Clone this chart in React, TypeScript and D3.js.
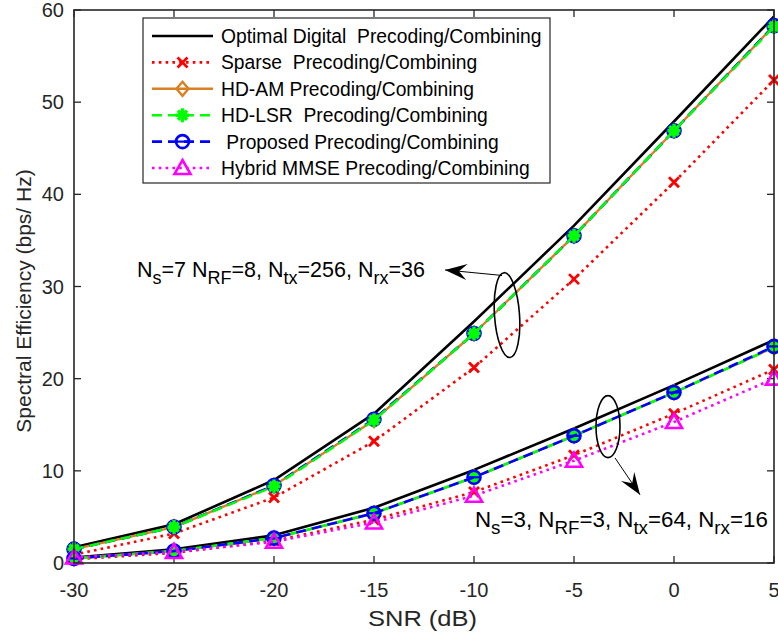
import React, { useEffect, useRef } from 'react';
import * as d3 from 'd3';

// SNR points (dB)
const snr = [-30, -25, -20, -15, -10, -5, 0, 5];

// Ns=7, NRF=8, Ntx=256, Nrx=36
const optimal7 = [1.7, 4.2, 9.0, 16.2, 26.2, 36.6, 47.9, 59.3];
const sparse7 = [0.9, 3.2, 7.1, 13.2, 21.2, 30.8, 41.3, 52.4];
const hdam7 = [1.5, 3.9, 8.4, 15.5, 24.9, 35.5, 46.9, 58.3];
const hdlsr7 = [1.5, 3.9, 8.3, 15.5, 24.9, 35.5, 46.9, 58.2];
const proposed7 = [1.5, 3.9, 8.4, 15.6, 24.9, 35.5, 46.9, 58.3];

// Ns=3, NRF=3, Ntx=64, Nrx=16
const optimal3 = [0.6, 1.5, 3.0, 6.0, 10.1, 14.6, 19.3, 24.2];
const sparse3 = [0.4, 1.1, 2.4, 4.7, 7.7, 11.7, 16.2, 21.0];
const hdam3 = [0.5, 1.3, 2.7, 5.4, 9.3, 13.8, 18.5, 23.4];
const hdlsr3 = [0.5, 1.3, 2.7, 5.4, 9.3, 13.8, 18.5, 23.4];
const proposed3 = [0.5, 1.3, 2.7, 5.4, 9.3, 13.8, 18.5, 23.5];
const hybrid3 = [0.6, 1.2, 2.3, 4.4, 7.3, 11.1, 15.3, 20.0];

const xTicks = [-30, -25, -20, -15, -10, -5, 0, 5];
const yTicks = [0, 10, 20, 30, 40, 50, 60];

const legendLabels = [
  'Optimal Digital  Precoding/Combining',
  'Sparse  Precoding/Combining',
  'HD-AM Precoding/Combining',
  'HD-LSR  Precoding/Combining',
  ' Proposed Precoding/Combining',
  'Hybrid MMSE Precoding/Combining',
];

const note7: [string, boolean][] = [['N', false], ['s', true], ['=7 N', false], ['RF', true], ['=8, N', false], ['tx', true], ['=256, N', false], ['rx', true], ['=36', false]];
const note3: [string, boolean][] = [['N', false], ['s', true], ['=3, N', false], ['RF', true], ['=3, N', false], ['tx', true], ['=64, N', false], ['rx', true], ['=16', false]];

const FONT = 'Arial, "Liberation Sans", Helvetica, sans-serif';

type Style = { key: string; color: string; width: number; dash: string | null; marker: string };

const styles: Style[] = [
  { key: 'optimal', color: '#000000', width: 2.6, dash: null, marker: 'none' },
  { key: 'sparse', color: '#ff0000', width: 2.6, dash: '2.6,4.2', marker: 'x' },
  { key: 'hdam', color: '#d98022', width: 2.4, dash: null, marker: 'diamond' },
  { key: 'hdlsr', color: '#00ff00', width: 2.6, dash: '10,6', marker: 'star' },
  { key: 'proposed', color: '#0000ff', width: 2.6, dash: '10,6', marker: 'circle' },
  { key: 'hybrid', color: '#ff00ff', width: 2.6, dash: '2.6,4.2', marker: 'triangle' },
];

function drawMarker(g: any, kind: string, cx: number, cy: number, color: string) {
  const m = g.append('g').attr('transform', `translate(${cx},${cy})`)
    .attr('stroke', color).attr('fill', 'none').attr('stroke-width', 2.4);
  if (kind === 'x') {
    m.append('path').attr('d', 'M-5,-5L5,5M-5,5L5,-5').attr('stroke-width', 2.8);
  } else if (kind === 'diamond') {
    m.append('path').attr('d', 'M0,-7L6,0L0,7L-6,0Z');
  } else if (kind === 'star') {
    m.append('path').attr('d', 'M0,-7L0,7M-6.5,0L6.5,0M-4.6,-4.6L4.6,4.6M-4.6,4.6L4.6,-4.6').attr('stroke-width', 3.4);
  } else if (kind === 'circle') {
    m.append('circle').attr('r', 6.5).attr('stroke-width', 2.6);
    m.append('path').attr('d', 'M-6,0L6,0').attr('stroke-width', 2.2);
  } else if (kind === 'triangle') {
    m.append('path').attr('d', 'M0,-8L8,6L-8,6Z').attr('stroke-width', 2.6);
  }
}

function drawArrow(svg: any, x1: number, y1: number, x2: number, y2: number) {
  svg.append('line').attr('x1', x1).attr('y1', y1).attr('x2', x2).attr('y2', y2)
    .attr('stroke', '#000').attr('stroke-width', 1);
  const ang = Math.atan2(y2 - y1, x2 - x1) * 180 / Math.PI;
  svg.append('path')
    .attr('d', 'M0,0L-22,-8L-14,0L-22,8Z')
    .attr('transform', `translate(${x2},${y2}) rotate(${ang})`)
    .attr('fill', '#000');
}

function addNote(svg: any, x: number, y: number, parts: [string, boolean][], size: number) {
  const t = svg.append('text').attr('x', x).attr('y', y)
    .attr('font-family', FONT).attr('font-size', size).attr('fill', '#000');
  let sub = false;
  parts.forEach(([s, isSub]) => {
    const dy = isSub === sub ? 0 : (isSub ? 7 : -7);
    t.append('tspan').attr('dy', dy).attr('font-size', isSub ? size - 3.5 : size)
      .attr('xml:space', 'preserve').text(s);
    sub = isSub;
  });
}

export default function App() {
  const ref = useRef<SVGSVGElement | null>(null);

  useEffect(() => {
    const width = 778;
    const height = 638;
    const left = 74, right = 774, top = 10, bottom = 563;

    const svg = d3.select(ref.current);
    svg.selectAll('*').remove();
    svg.attr('width', width).attr('height', height);

    svg.append('rect').attr('width', width).attr('height', height).attr('fill', '#fff');

    const x = d3.scaleLinear().domain([-30, 5]).range([left, right]);
    const y = d3.scaleLinear().domain([0, 60]).range([bottom, top]);

    const axisColor = '#262626';

    // ticks (inward, all four sides)
    xTicks.forEach(t => {
      svg.append('line').attr('x1', x(t)).attr('x2', x(t)).attr('y1', bottom).attr('y2', bottom - 7)
        .attr('stroke', axisColor).attr('stroke-width', 1.3);
      svg.append('line').attr('x1', x(t)).attr('x2', x(t)).attr('y1', top).attr('y2', top + 7)
        .attr('stroke', axisColor).attr('stroke-width', 1.3);
      svg.append('text').attr('x', x(t)).attr('y', bottom + 34)
        .attr('text-anchor', 'middle').attr('font-family', FONT).attr('font-size', 20)
        .attr('fill', axisColor).text(t);
    });
    yTicks.forEach(t => {
      svg.append('line').attr('x1', left).attr('x2', left + 7).attr('y1', y(t)).attr('y2', y(t))
        .attr('stroke', axisColor).attr('stroke-width', 1.3);
      svg.append('line').attr('x1', right).attr('x2', right - 7).attr('y1', y(t)).attr('y2', y(t))
        .attr('stroke', axisColor).attr('stroke-width', 1.3);
      svg.append('text').attr('x', left - 10).attr('y', y(t) + 7)
        .attr('text-anchor', 'end').attr('font-family', FONT).attr('font-size', 20)
        .attr('fill', axisColor).text(t);
    });

    const line = d3.line<number>().x((_, i) => x(snr[i])).y(d => y(d));
    const plot = svg.append('g');
    const styleOf = (k: string) => styles.find(s => s.key === k) as Style;

    const drawSeries = (k: string, vals: number[], offset = 0) => {
      const s = styleOf(k);
      plot.append('path').attr('d', line(vals) as string)
        .attr('fill', 'none').attr('stroke', s.color).attr('stroke-width', s.width)
        .attr('stroke-dasharray', s.dash).attr('stroke-dashoffset', offset)
        .attr('stroke-linejoin', 'round');
      vals.forEach((v, i) => drawMarker(plot, s.marker, x(snr[i]), y(v), s.color));
    };

    // upper group: green drawn over blue
    drawSeries('optimal', optimal7);
    drawSeries('sparse', sparse7);
    drawSeries('hdam', hdam7);
    drawSeries('proposed', proposed7);
    drawSeries('hdlsr', hdlsr7);

    // lower group: blue drawn over green
    drawSeries('optimal', optimal3);
    drawSeries('sparse', sparse3);
    drawSeries('hdam', hdam3);
    drawSeries('hdlsr', hdlsr3, 8);
    drawSeries('proposed', proposed3);
    drawSeries('hybrid', hybrid3);

    // axes box
    svg.append('rect').attr('x', left).attr('y', top).attr('width', right - left).attr('height', bottom - top)
      .attr('fill', 'none').attr('stroke', axisColor).attr('stroke-width', 1.6);

    // axis labels
    svg.append('text').attr('x', 368).attr('y', 626)
      .attr('font-family', FONT).attr('font-size', 22)
      .attr('textLength', 109).attr('lengthAdjust', 'spacingAndGlyphs')
      .attr('fill', axisColor).text('SNR (dB)');
    svg.append('text').attr('transform', `translate(31,${301}) rotate(-90)`)
      .attr('text-anchor', 'middle').attr('font-family', FONT).attr('font-size', 21)
      .attr('fill', axisColor).text('Spectral Efficiency (bps/ Hz)');

    // legend
    const lg = svg.append('g');
    lg.append('rect').attr('x', 143).attr('y', 18).attr('width', 407).attr('height', 165)
      .attr('fill', '#fff').attr('stroke', axisColor).attr('stroke-width', 1.2);
    styles.forEach((s, i) => {
      const ly = 36 + i * 26.4;
      lg.append('line').attr('x1', 152).attr('x2', 213).attr('y1', ly).attr('y2', ly)
        .attr('stroke', s.color).attr('stroke-width', s.width).attr('stroke-dasharray', s.dash);
      drawMarker(lg, s.marker, 182.5, ly, s.color);
      lg.append('text').attr('x', 221).attr('y', ly + 7).attr('font-family', FONT).attr('font-size', 19.3)
        .attr('xml:space', 'preserve').attr('fill', '#000').text(legendLabels[i]);
    });

    // annotations
    svg.append('ellipse').attr('cx', x(-8.35)).attr('cy', y(26.9)).attr('rx', 12.5).attr('ry', 42.5)
      .attr('transform', `rotate(-4,${x(-8.35)},${y(26.9)})`)
      .attr('fill', 'none').attr('stroke', '#000').attr('stroke-width', 1.6);
    drawArrow(svg, x(-8.6), y(31.2), x(-11.45), y(31.8));
    addNote(svg, 137, 277, note7, 21.5);

    svg.append('ellipse').attr('cx', x(-3.3)).attr('cy', y(14.8)).attr('rx', 12).attr('ry', 31)
      .attr('fill', 'none').attr('stroke', '#000').attr('stroke-width', 1.6);
    drawArrow(svg, x(-2.95), y(11.4), x(-1.7), y(7.4));
    addNote(svg, 475, 527, note3, 22.3);
  }, []);

  return (
    <div>
      <svg ref={ref} style={{ position: 'absolute', left: 0, top: 0 }}></svg>
    </div>
  );
}
